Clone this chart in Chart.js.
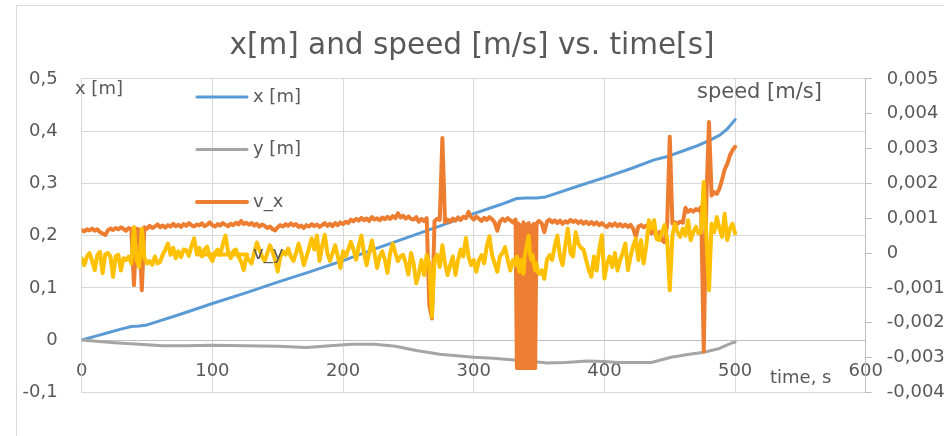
<!DOCTYPE html>
<html><head><meta charset="utf-8">
<script src="https://cdn.jsdelivr.net/npm/chart.js@4.4.1/dist/chart.umd.min.js"></script>
<style>
html,body{margin:0;padding:0;background:#fff;overflow:hidden;width:944px;height:436px;}
#frame{position:absolute;left:16px;top:5px;width:1000px;height:500px;border:1px solid #d9d9d9;box-sizing:border-box;}
#c{position:absolute;left:0;top:0;width:944px;height:436px;}
</style></head><body>
<div id="frame"></div>
<canvas id="c" width="944" height="436"></canvas>
<script>
const chartTitle = 'x[m] and speed [m/s] vs. time[s]';
const axisTitleLeft = 'x [m]';
const axisTitleRight = 'speed [m/s]';
const axisTitleBottom = 'time, s';
const seriesNames = ['x [m]', 'y [m]', 'v_x', 'v_y'];

// position series (left axis)
const tPos = [0, 10, 20, 30, 38, 44, 50, 75, 100, 125, 150, 175, 200, 225, 250, 275, 300, 320, 333, 340, 348, 355, 362, 380, 400, 420, 438, 449, 460, 470, 480, 488, 494, 500];
const xPos = [0, 0.007, 0.014, 0.021, 0.026, 0.027, 0.029, 0.049, 0.070, 0.090, 0.111, 0.131, 0.152, 0.175, 0.197, 0.219, 0.242, 0.259, 0.271, 0.272, 0.272, 0.274, 0.280, 0.295, 0.311, 0.328, 0.345, 0.352, 0.362, 0.371, 0.382, 0.392, 0.404, 0.422];
const tPosY = [0, 25, 50, 62, 80, 100, 125, 150, 172, 190, 207, 224, 240, 256, 274, 300, 315, 331, 345, 356, 370, 387, 400, 410, 425, 436, 451, 465, 475, 488, 498, 500];
const yPos = [0, -0.005, -0.009, -0.011, -0.011, -0.010, -0.011, -0.012, -0.014, -0.011, -0.008, -0.008, -0.012, -0.020, -0.027, -0.033, -0.035, -0.038, -0.041, -0.044, -0.043, -0.040, -0.041, -0.043, -0.043, -0.043, -0.033, -0.027, -0.024, -0.016, -0.005, -0.004];

// speed series (right axis)
const tSpeed = [
0,2,4,6,8,10,12,14,16,18,20,22,24,26,28,30,32,34,36,38,
40,42,44,46,48,50,52,54,56,58,60,62,64,66,68,70,72,74,76,78,
80,82,84,86,88,90,92,94,96,98,100,102,104,106,108,110,112,114,116,118,
120,122,124,126,128,130,132,134,136,138,140,142,144,146,148,150,152,154,156,158,
160,162,164,166,168,170,172,174,176,178,180,182,184,186,188,190,192,194,196,198,
200,202,204,206,208,210,212,214,216,218,220,222,224,226,228,230,232,234,236,238,
240,242,244,246,248,250,252,254,256,258,260,262,264,266,268,270,272,274,276,278,
280,282,284,286,288,290,292,294,296,298,300,302,304,306,308,310,312,314,316,318,
320,322,324,326,328,330,332,
333,334,335,336,337,338,339,340,341,342,343,344,345,346,347,348,349,
350,352,354,356,358,360,362,364,366,368,370,372,374,376,378,380,382,384,386,388,
390,392,394,396,398,400,402,404,406,408,410,412,414,416,418,420,422,424,426,428,
430,432,434,436,438,440,442,444,446,448,450,452,454,456,458,460,462,464,466,468,
470,472,474,476,478,480,482,484,486,488,490,492,494,496,498,500];

const vX = [
0.00066,0.00062,0.00068,0.00065,0.0007,0.00064,0.00068,0.0006,0.00056,0.00052,0.00065,0.0007,0.00066,0.00072,0.00068,0.00074,0.00069,0.00064,0.00072,0.00068,
-0.00092,0.0007,0.00066,-0.00107,0.00074,0.0007,0.00078,0.00072,0.00076,0.00082,0.00074,0.00079,0.00073,0.0008,0.00076,0.00084,0.00077,0.00081,0.00075,0.00083,
0.00078,0.00086,0.0008,0.00076,0.00082,0.00079,0.00085,0.00077,0.00081,0.00088,0.0008,0.00076,0.00083,0.00079,0.00086,0.00081,0.00077,0.00084,0.0008,0.00087,
0.00082,0.00092,0.00083,0.00087,0.00081,0.00086,0.00079,0.00084,0.00076,0.00082,0.00078,0.00072,0.00076,0.00069,0.00065,0.00074,0.0008,0.00076,0.00083,0.00078,
0.00085,0.00079,0.00083,0.00075,0.00079,0.00072,0.0008,0.00076,0.00083,0.00077,0.00082,0.00075,0.0008,0.00086,0.00078,0.00084,0.00077,0.00086,0.0008,0.00088,
0.00083,0.0009,0.00086,0.00096,0.00091,0.00098,0.00093,0.00101,0.00094,0.00099,0.00092,0.00103,0.00096,0.001,0.00094,0.00102,0.00097,0.00104,0.00098,0.00106,
0.001,0.00114,0.00102,0.00107,0.00099,0.00105,0.00098,0.00096,0.00103,0.0009,0.00098,0.00092,0.001,-0.0015,-0.00188,0.00092,0.00098,0.00095,0.0033,0.00088,
0.00096,0.0009,0.00099,0.00093,0.00102,0.00095,0.00104,0.001,0.00118,0.00103,0.00096,0.00105,0.00098,0.00092,0.00101,0.00095,0.00103,0.00097,0.00088,0.00064,
0.0009,0.00098,0.00092,0.001,0.00094,0.00088,0.00096,
-0.0033,0.00085,-0.0033,0.0008,-0.0033,0.00088,-0.0033,0.00082,-0.0033,0.00086,-0.0033,0.00079,-0.0033,0.00084,-0.0033,0.0008,0.0009,
0.00092,0.00085,0.0006,0.0009,0.00096,0.00088,0.00094,0.00086,0.00093,0.00084,0.00091,0.00087,0.00095,0.00089,0.00093,0.00086,0.00092,0.00084,0.0009,0.00083,
0.00089,0.00082,0.00088,0.0008,0.00086,0.00079,0.00075,0.00084,0.00078,0.00085,0.00077,0.00083,0.00076,0.00082,0.00075,0.00081,0.0007,0.00046,0.00076,0.0008,
0.00074,0.00079,0.00072,0.00056,0.0007,0.00045,0.0006,0.00038,0.00031,0.00082,0.00334,0.00085,0.00088,0.00084,0.0009,0.00087,0.0013,0.00118,0.00124,0.00119,
0.00126,0.00122,0.00132,-0.00283,0.0015,0.00376,0.00165,0.00175,0.0017,0.00185,0.0021,0.0024,0.00256,0.0028,0.00295,0.00305];

const vY = [
-0.00016,-0.00035,-0.0001,0,-0.00023,-0.00049,-0.00005,0.00003,-0.00058,-0.00005,0,-0.0001,-0.00068,-0.0001,-0.00005,-0.0005,-0.00015,-0.0002,-0.0001,-0.0003,
0.00075,-0.0002,-0.0004,0.0007,-0.00015,-0.0003,-0.00023,-0.00034,-0.0001,-0.0003,-0.00025,-0.00005,0.0001,0.00027,-0.00005,0.00015,-0.00015,0.00005,-0.00012,0.0001,
0.00008,-0.00008,0.0002,0.00042,0,0.00015,-0.0001,0.0001,0.00018,-0.0001,-0.00023,0,0.0001,-0.00005,0.00025,0.0005,0.00005,-0.00015,0.00005,0.0001,
-0.0001,-0.00025,-0.00049,-0.0001,-0.0002,-0.0003,0,0.0003,0.0001,-0.0001,-0.00023,0,0.00022,0.00005,-0.0002,-0.00053,-0.0001,0.00005,-0.00005,0.00013,
-0.0001,-0.00023,0,0.00027,0,-0.00035,-0.0001,0.00015,0.00042,0.0001,0.0005,-0.00023,0.0002,0.00052,0,-0.00023,0,0.00022,-0.0001,-0.00043,
0.00005,-0.0001,0.0001,0.00032,0.0001,-0.00019,0.0002,0.0005,0,-0.00035,0,0.00036,0,-0.00043,-0.0001,0.00005,-0.0002,-0.00057,0,0.00027,
0,-0.00023,-0.0001,-0.00005,-0.0003,-0.00062,0,-0.0003,-0.00087,-0.0006,-0.0002,-0.00063,-0.00006,-0.0003,-0.00183,-0.0002,-0.00005,-0.0004,0.00022,-0.0003,
-0.00063,-0.00035,-0.0001,-0.00063,-0.0002,0.0001,-0.0001,0.00043,-0.0001,-0.00035,-0.0002,-0.00054,-0.0002,-0.00006,-0.0003,0.0002,0.00048,-0.00006,-0.0003,-0.00054,
-0.0001,0,0.00017,-0.0002,-0.0005,-0.0002,-0.00035,
-0.0001,-0.0003,-0.00054,-0.0002,-0.0004,-0.0006,-0.0001,0.0001,0.0003,0.0005,0,-0.0002,-0.00006,-0.0003,-0.0005,-0.0003,-0.00055,
-0.0006,-0.0005,-0.00074,-0.0002,-0.00006,-0.0002,0.0002,0.0005,-0.0001,-0.00035,0.0002,0.0007,0,-0.0001,0.0006,0.00027,0.00015,0.0001,-0.0002,-0.00049,
-0.00068,-0.0001,-0.0005,0.0001,0.00051,-0.00073,-0.0003,-0.0001,-0.0004,0,-0.0005,-0.0002,0,0.00027,-0.00049,-0.0001,0.0002,0.00042,-0.0002,0.00037,
-0.0003,0.0002,0.00094,0.0007,0.00094,0.0004,0.00037,0.0006,0.0008,0.0004,-0.00107,0.0005,0.00084,0.0006,0.00046,0.0007,0.0005,0.00094,0.00037,0.0006,
0.00075,0.00056,0.0006,0.00204,0.0005,-0.00107,0.00084,0.0006,0.00103,0.0007,0.00046,0.00113,0.00037,0.0007,0.00084,0.00056];

const pair = (ts, vs) => ts.map((t, i) => ({x: t, y: vs[i]}));
const fmt = (v, d) => String(Number(v.toFixed(d))).replace('.', ',');

Chart.defaults.font.family = '"DejaVu Sans", sans-serif';
Chart.defaults.font.size = 18;
Chart.defaults.color = '#595959';

const overlay = {
  id: 'overlay',
  afterDatasetsDraw(chart) {
    const c = chart.ctx;
    c.save();
    c.fillStyle = '#595959';
    c.textBaseline = 'middle';
    c.textAlign = 'left';
    c.font = '18px "DejaVu Sans"';
    c.fillText(axisTitleLeft, 75, 89);
    c.fillText(axisTitleBottom, 770, 378);
    c.font = '21px "DejaVu Sans"';
    c.fillText(axisTitleRight, 697, 93);
    c.font = '18px "DejaVu Sans"';
    chart.data.datasets.forEach((ds, i) => {
      const y = 97 + i * 52.5;
      c.strokeStyle = ds.borderColor;
      c.lineWidth = ds.borderWidth;
      c.lineCap = 'round';
      c.beginPath(); c.moveTo(197, y); c.lineTo(247, y); c.stroke();
      c.fillStyle = '#595959';
      c.fillText(ds.label, 253, y);
    });
    c.restore();
  }
};

new Chart(document.getElementById('c'), {
  type: 'line',
  data: {
    datasets: [
      {label: seriesNames[0], data: pair(tPos, xPos), borderColor: '#5B9BD5', borderWidth: 3, yAxisID: 'y', order: 4},
      {label: seriesNames[1], data: pair(tPosY, yPos), borderColor: '#A5A5A5', borderWidth: 3, yAxisID: 'y', order: 3},
      {label: seriesNames[2], data: pair(tSpeed, vX), borderColor: '#ED7D31', borderWidth: 4, yAxisID: 'y2', order: 2},
      {label: seriesNames[3], data: pair(tSpeed, vY), borderColor: '#FFC000', borderWidth: 4, yAxisID: 'y2', order: 1}
    ]
  },
  options: {
    responsive: false,
    animation: false,
    devicePixelRatio: 1,
    layout: {padding: {left: 0, right: 0, top: 0, bottom: 43.7}},
    elements: {
      point: {radius: 0},
      line: {tension: 0, borderJoinStyle: 'round', borderCapStyle: 'round', fill: false}
    },
    plugins: {
      legend: {display: false},
      tooltip: {enabled: false},
      title: {
        display: true, text: chartTitle, color: '#595959',
        font: {size: 29.5, weight: 'normal'},
        padding: {top: 29, bottom: 14.5}
      }
    },
    scales: {
      x: {
        type: 'linear', min: 0, max: 600, position: {y: 0},
        ticks: {stepSize: 100, padding: 20, maxRotation: 0},
        grid: {color: '#d9d9d9', drawTicks: false},
        border: {color: '#bfbfbf'}
      },
      y: {
        type: 'linear', position: 'left', min: -0.1, max: 0.5,
        ticks: {stepSize: 0.1, padding: 24, callback: v => fmt(v, 1)},
        grid: {color: '#d9d9d9', drawTicks: false},
        border: {color: '#d9d9d9'},
        afterFit: s => { s.width = 81.7; }
      },
      y2: {
        type: 'linear', position: 'right', min: -0.004, max: 0.005,
        ticks: {stepSize: 0.001, padding: 15, callback: v => fmt(v, 3)},
        grid: {drawOnChartArea: false, color: '#bfbfbf', tickLength: 6},
        border: {color: '#bfbfbf'},
        afterFit: s => { s.width = 78.2; }
      }
    }
  },
  plugins: [overlay]
});
</script></body></html>
